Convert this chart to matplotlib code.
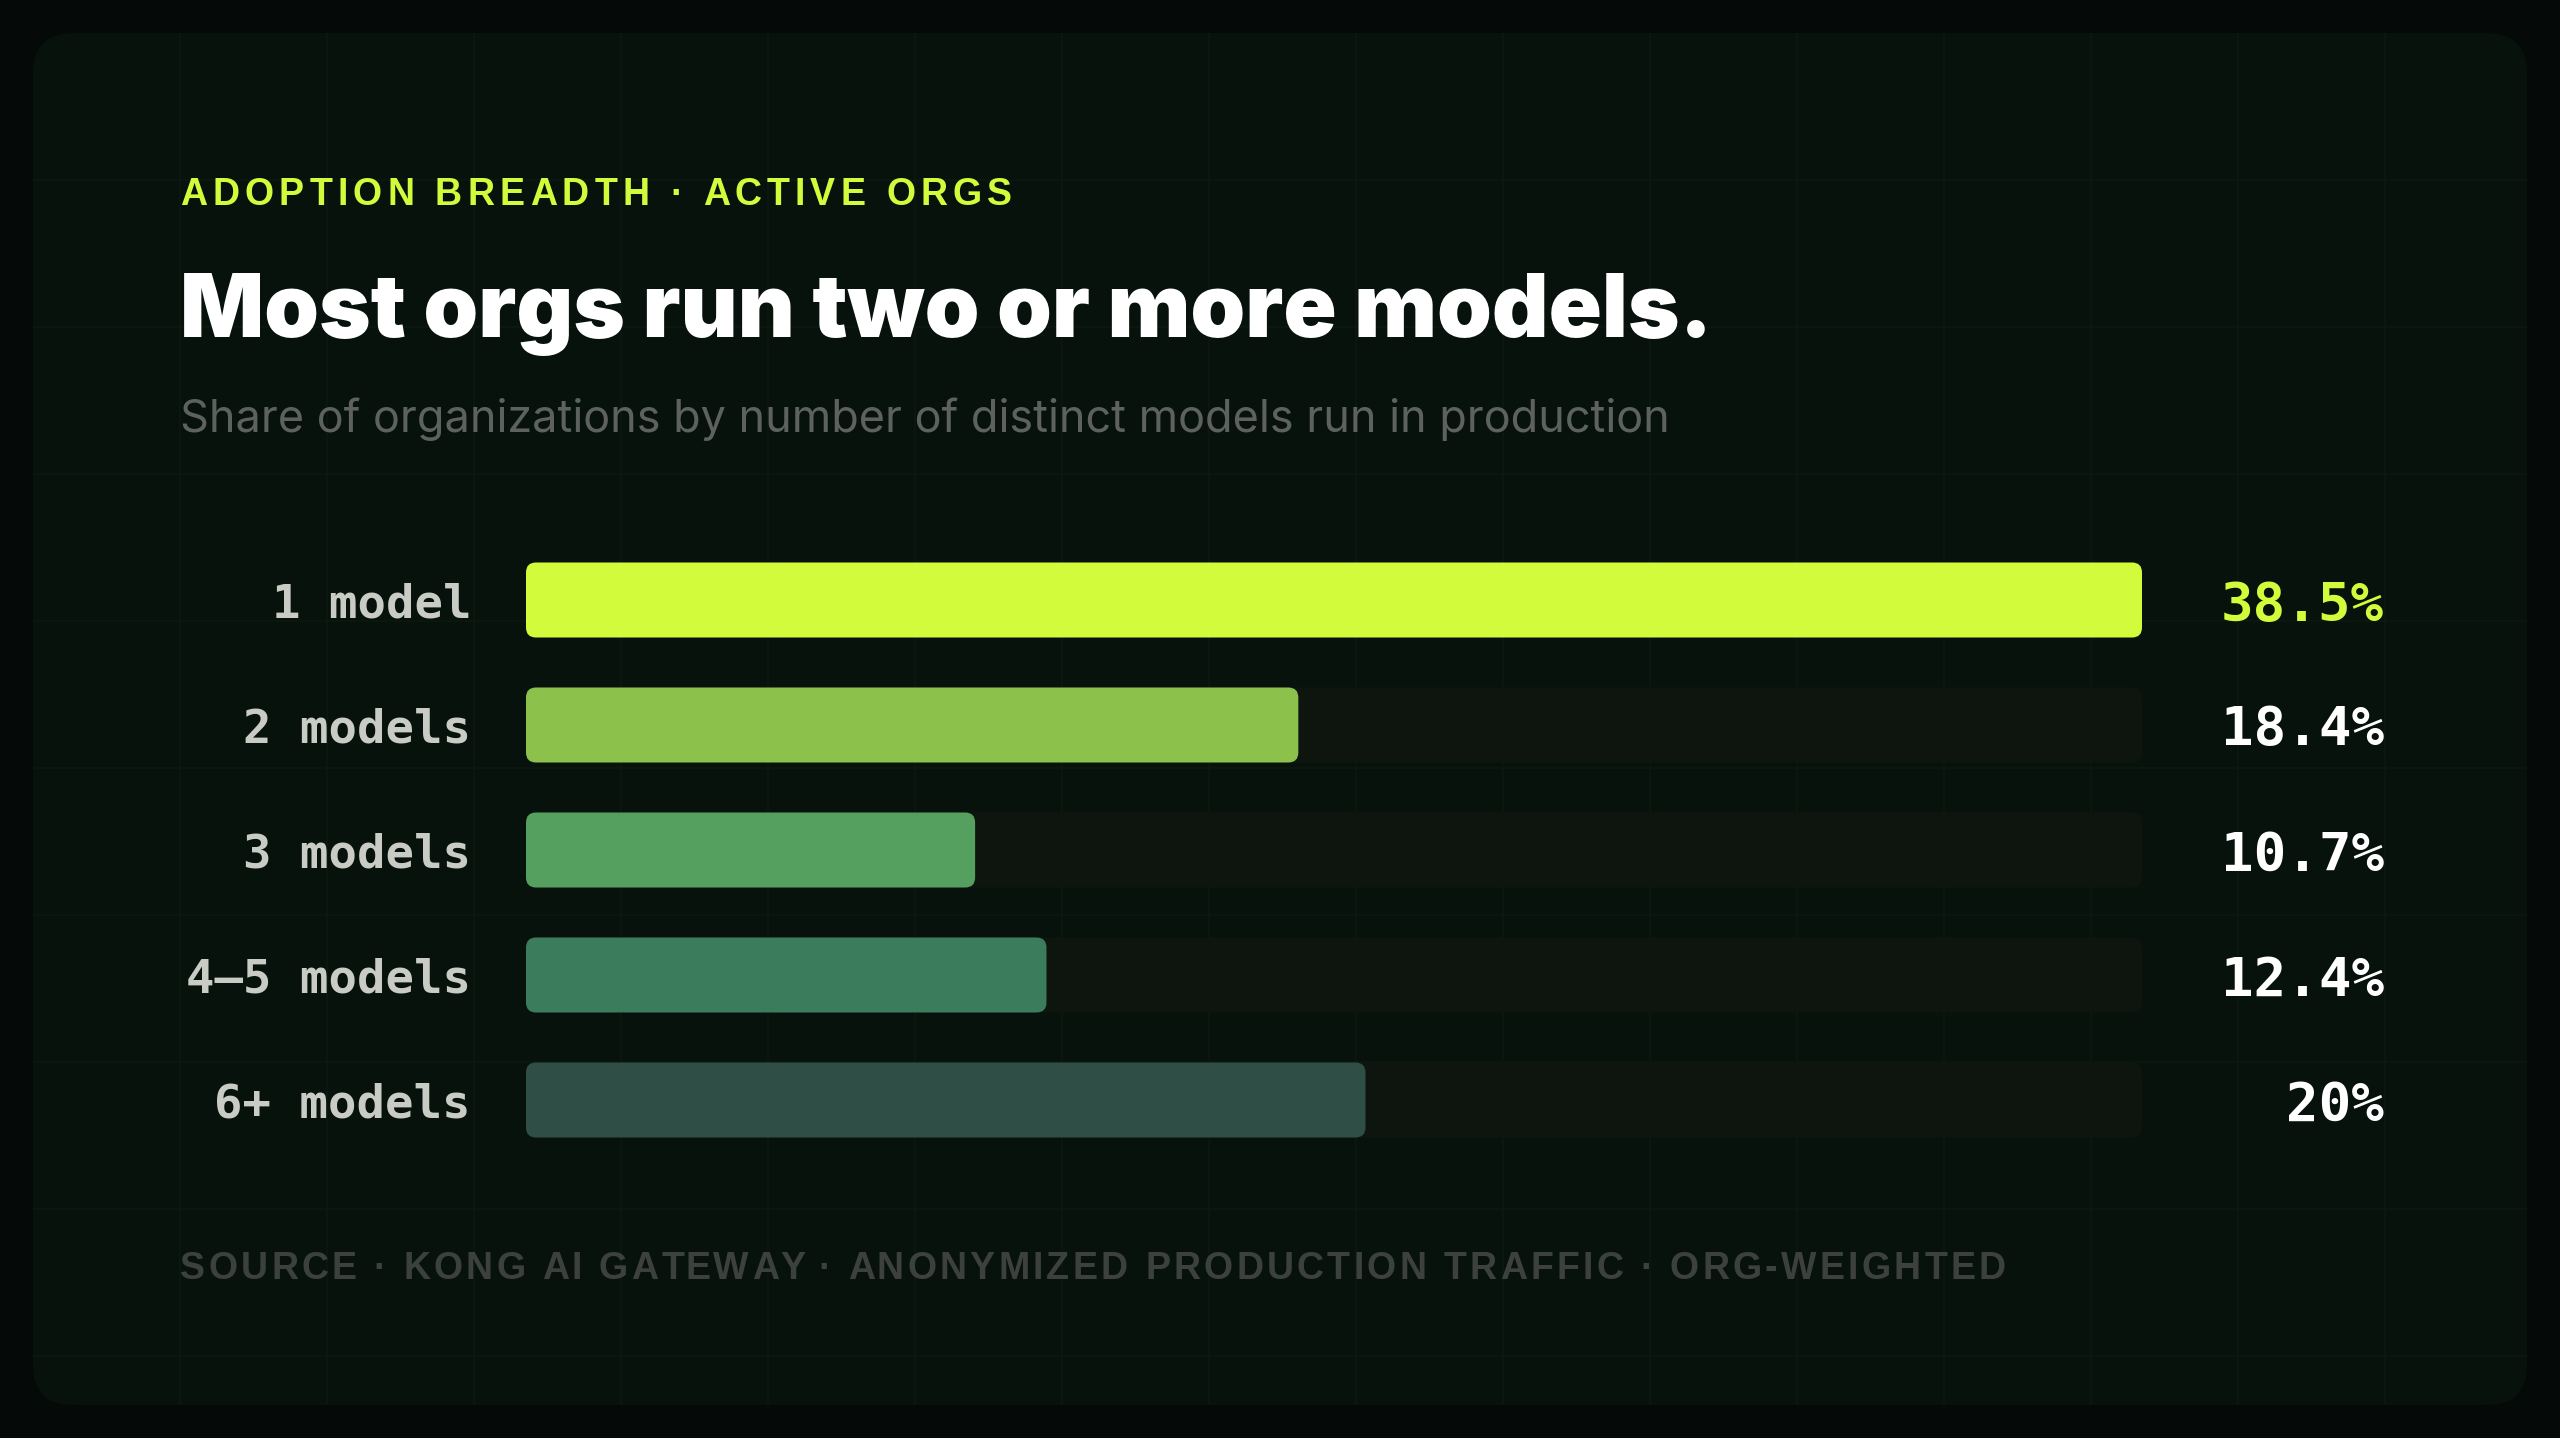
import matplotlib
matplotlib.use("Agg")
import matplotlib.pyplot as plt
from matplotlib.patches import FancyBboxPatch
from matplotlib.font_manager import FontProperties

# data
categories = ["1 model", "2 models", "3 models", "4\u20135 models", "6+ models"]
shares = [38.5, 18.4, 10.7, 12.4, 20]
value_labels = ["38.5%", "18.4%", "10.7%", "12.4%", "20%"]
bar_colors = ["#d1fb3b", "#8cc24c", "#56a05f", "#3a7c5c", "#2f4f46"]

kicker = "ADOPTION BREADTH \u00b7 ACTIVE ORGS"
title = "Most orgs run two or more models."
subtitle = "Share of organizations by number of distinct models run in production"
source = "SOURCE \u00b7 KONG AI GATEWAY \u00b7 ANONYMIZED PRODUCTION TRAFFIC \u00b7 ORG-WEIGHTED"

W, H = 2560, 1438
BG = "#050907"
CARD = "#08120c"
GRID = "#0d1810"
TRACK = "#0e150f"
LIME = "#d1fb3b"

fig = plt.figure(figsize=(W / 100, H / 100), dpi=100, facecolor=BG)
ax0 = fig.add_axes([0, 0, 1, 1])
ax0.set_xlim(0, W)
ax0.set_ylim(H, 0)
ax0.axis("off")

# card with faint grid
cx0, cy0, cx1, cy1 = 33, 33, 2527, 1405
card = FancyBboxPatch((cx0, cy0), cx1 - cx0, cy1 - cy0,
                      boxstyle="round,pad=0,rounding_size=40",
                      fc=CARD, ec="none", zorder=0)
ax0.add_patch(card)
step = 147
gx = cx0 + step
while gx < cx1:
    ln = ax0.plot([gx, gx], [cy0, cy1], color=GRID, lw=1.1, zorder=1)[0]
    ln.set_clip_path(card)
    gx += step
gy = cy0 + step
while gy < cy1:
    ln = ax0.plot([cx0, cx1], [gy, gy], color=GRID, lw=1.1, zorder=1)[0]
    ln.set_clip_path(card)
    gy += step

renderer = fig.canvas.get_renderer()


def spaced(x, y, s, spacing, prop, color):
    # draw s one glyph at a time with extra tracking (pixels)
    bar_w = renderer.get_text_width_height_descent("|", prop, ismath=False)[0]
    for i, ch in enumerate(s):
        pre = renderer.get_text_width_height_descent(s[:i] + "|", prop, ismath=False)[0] - bar_w
        ax0.text(x + pre + i * spacing, y, ch, fontproperties=prop, color=color,
                 ha="left", va="baseline", zorder=5)


fp_kick = FontProperties(family="Liberation Sans", weight="bold", size=27)
spaced(180, 205, kicker, 5.2, fp_kick, LIME)

ax0.text(180, 337, title, fontfamily="Inter", fontweight="black", fontsize=63.3,
         color="white", ha="left", va="baseline", zorder=5)
ax0.text(180, 432, subtitle, fontfamily="Inter", fontsize=32.4,
         color="#5d625e", ha="left", va="baseline", zorder=5)

fp_src = FontProperties(family="Liberation Sans", weight="bold", size=27)
spaced(180, 1279, source, 3.3, fp_src, "#3c413d")

# bars
bx0, bx1 = 526, 2142
row0, row_step = 600, 125
n = len(categories)
xmax = max(shares)
ax = fig.add_axes([bx0 / W, 1 - (row0 + (n - 0.5) * row_step) / H,
                   (bx1 - bx0) / W, n * row_step / H])
ax.set_xlim(0, xmax)
ax.set_ylim(n - 0.5, -0.5)
ax.axis("off")
ax.patch.set_alpha(0)

xu = xmax / (bx1 - bx0)
yu = n / (n * row_step)
r = 10 * xu
asp = yu / xu
bh = 0.6

for i, (v, c) in enumerate(zip(shares, bar_colors)):
    ax.add_patch(FancyBboxPatch((0, i - bh / 2), xmax, bh,
                                boxstyle=f"round,pad=0,rounding_size={r}",
                                mutation_aspect=asp, fc=TRACK, ec="none"))
    ax.add_patch(FancyBboxPatch((0, i - bh / 2), v, bh,
                                boxstyle=f"round,pad=0,rounding_size={r}",
                                mutation_aspect=asp, fc=c, ec="none"))
    ax.annotate(categories[i], xy=(0, i), xytext=(-55, 0), textcoords="offset pixels",
                ha="right", va="center_baseline", fontfamily="DejaVu Sans Mono",
                fontweight="bold", fontsize=34, color="#c8ccc5")
    ax.annotate(value_labels[i], xy=(xmax, i), xytext=(242, 0), textcoords="offset pixels",
                ha="right", va="center_baseline", fontfamily="DejaVu Sans Mono",
                fontweight="bold", fontsize=39, color=LIME if i == 0 else "white")

fig.savefig("out.png", dpi=100, facecolor=BG)
